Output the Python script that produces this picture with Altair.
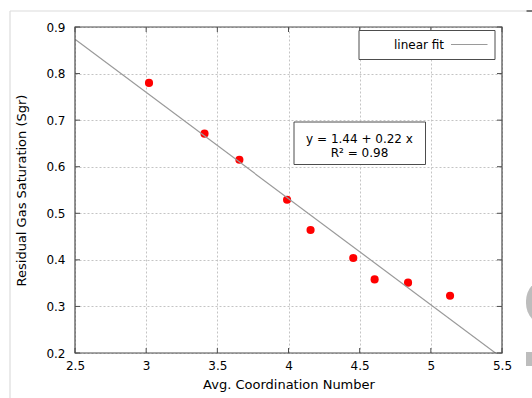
import altair as alt
import pandas as pd

# Measured samples: average coordination number vs residual gas saturation
coord_number = [3.02, 3.41, 3.655, 3.99, 4.155, 4.455, 4.605, 4.84, 5.135]
sgr = [0.780, 0.671, 0.615, 0.529, 0.464, 0.404, 0.358, 0.351, 0.323]

x_ticks = [2.5, 3.0, 3.5, 4.0, 4.5, 5.0, 5.5]
y_ticks = [0.2, 0.3, 0.4, 0.5, 0.6, 0.7, 0.8, 0.9]

fit_label = "linear fit"
equation_line1 = "y = 1.44 + 0.22 x"
equation_line2 = "R² = 0.98"

W, H = 427, 326
FONT = "DejaVu Sans"
FRAME = "#4d4d4d"
FIT_COLOR = "#9a9a9a"

df = pd.DataFrame({"x": coord_number, "y": sgr})
xt = pd.DataFrame({"x": x_ticks})
yt = pd.DataFrame({"y": y_ticks})
one = pd.DataFrame({"k": [0]})

x_scale = alt.Scale(domain=[2.5, 5.5], nice=False, zero=False)
y_scale = alt.Scale(domain=[0.2, 0.9], nice=False, zero=False)

x_axis = alt.Axis(
    values=x_ticks, format=".1~f", title="Avg. Coordination Number",
    ticks=False, domain=False, labelFlush=False, labelPadding=7,
    grid=True, gridDash=[2, 2], gridColor="#c4c4c4", titlePadding=7,
)
y_axis = alt.Axis(
    values=y_ticks, format=".1f", title="Residual Gas Saturation (Sgr)",
    ticks=False, domain=False, labelFlush=False, labelPadding=10,
    grid=True, gridDash=[2, 2], gridColor="#c4c4c4", titlePadding=17,
)

points = alt.Chart(df).mark_circle(color="#ff0000", opacity=1, size=66).encode(
    x=alt.X("x:Q", scale=x_scale, axis=x_axis),
    y=alt.Y("y:Q", scale=y_scale, axis=y_axis),
)

# Least-squares fit across the full x range, clipped to the plot frame
fit = alt.Chart(df).transform_regression(
    "x", "y", method="linear", extent=[2.5, 5.5]
).mark_line(color=FIT_COLOR, strokeWidth=1.2, clip=True).encode(
    x=alt.X("x:Q", scale=x_scale), y=alt.Y("y:Q", scale=y_scale)
)

# Plot frame
frame = alt.Chart(one).mark_rect(fillOpacity=0, stroke=FRAME, strokeWidth=1.2).encode(
    x=alt.value(0), x2=alt.value(W), y=alt.value(0), y2=alt.value(H))

# Inward tick marks on all four sides
tick_style = dict(color=FRAME, strokeWidth=1)
x_bottom = alt.Chart(xt).mark_rule(**tick_style).encode(
    x=alt.X("x:Q", scale=x_scale), y=alt.value(H), y2=alt.value(H - 5))
x_top = alt.Chart(xt).mark_rule(**tick_style).encode(
    x=alt.X("x:Q", scale=x_scale), y=alt.value(0), y2=alt.value(5))
y_left = alt.Chart(yt).mark_rule(**tick_style).encode(
    y=alt.Y("y:Q", scale=y_scale), x=alt.value(0), x2=alt.value(5))
y_right = alt.Chart(yt).mark_rule(**tick_style).encode(
    y=alt.Y("y:Q", scale=y_scale), x=alt.value(W), x2=alt.value(W - 5))

# Key box with the fit line sample
key_box = alt.Chart(one).mark_rect(
    fill="white", stroke=FRAME, strokeWidth=1
).encode(x=alt.value(284), x2=alt.value(420), y=alt.value(3.5), y2=alt.value(32.5))
key_text = alt.Chart(one).mark_text(
    align="right", baseline="middle", font=FONT, fontSize=12, color="#000",
    text=fit_label,
).encode(x=alt.value(369), y=alt.value(17.5))
key_line = alt.Chart(one).mark_rule(
    color=FIT_COLOR, strokeWidth=1.2
).encode(x=alt.value(376), x2=alt.value(412.5), y=alt.value(17.5))

# Fit equation box
eq_box = alt.Chart(one).mark_rect(
    fill="white", stroke=FRAME, strokeWidth=1
).encode(x=alt.value(219), x2=alt.value(350.5), y=alt.value(95), y2=alt.value(137.5))
eq_style = dict(align="center", baseline="middle", font=FONT, fontSize=12, color="#000")
eq_text1 = alt.Chart(one).mark_text(text=equation_line1, **eq_style).encode(
    x=alt.value(284.5), y=alt.value(111.5))
eq_text2 = alt.Chart(one).mark_text(text=equation_line2, **eq_style).encode(
    x=alt.value(284.5), y=alt.value(125.5))

# Page frame around the figure
frame_color = "#dcdcdc"
page_top = alt.Chart(one).mark_rule(color=frame_color, strokeWidth=1.2).encode(
    x=alt.value(-65), x2=alt.value(451.5), y=alt.value(-16), y2=alt.value(-16))
page_left = alt.Chart(one).mark_rule(color=frame_color, strokeWidth=1.2).encode(
    x=alt.value(-65), x2=alt.value(-65), y=alt.value(-16), y2=alt.value(380))
page_dash = alt.Chart(one).mark_rule(color="#222", strokeWidth=1.2).encode(
    x=alt.value(451.5), x2=alt.value(460), y=alt.value(-16), y2=alt.value(-16))
side_blob = alt.Chart(one).mark_rect(
    color="#bdbdbd", cornerRadius=24
).encode(x=alt.value(451), x2=alt.value(520), y=alt.value(250), y2=alt.value(300))
side_bar = alt.Chart(one).mark_rect(color="#bdbdbd").encode(
    x=alt.value(451), x2=alt.value(460), y=alt.value(325), y2=alt.value(339))

chart = alt.layer(
    points, fit, frame, x_bottom, x_top, y_left, y_right,
    key_box, key_text, key_line, eq_box, eq_text1, eq_text2,
    page_top, page_left, page_dash, side_blob, side_bar,
).properties(
    width=W, height=H,
    autosize=alt.AutoSizeParams(type="none"),
    padding={"left": 75, "top": 27, "right": 30, "bottom": 45},
    background="white",
).configure_view(
    stroke=None
).configure_axis(
    labelFont=FONT, titleFont=FONT, labelFontSize=12, titleFontSize=13,
    labelColor="#000", titleColor="#000", titleFontWeight="normal",
)

chart.save("out.html", embed_options={"renderer": "svg", "actions": False})
